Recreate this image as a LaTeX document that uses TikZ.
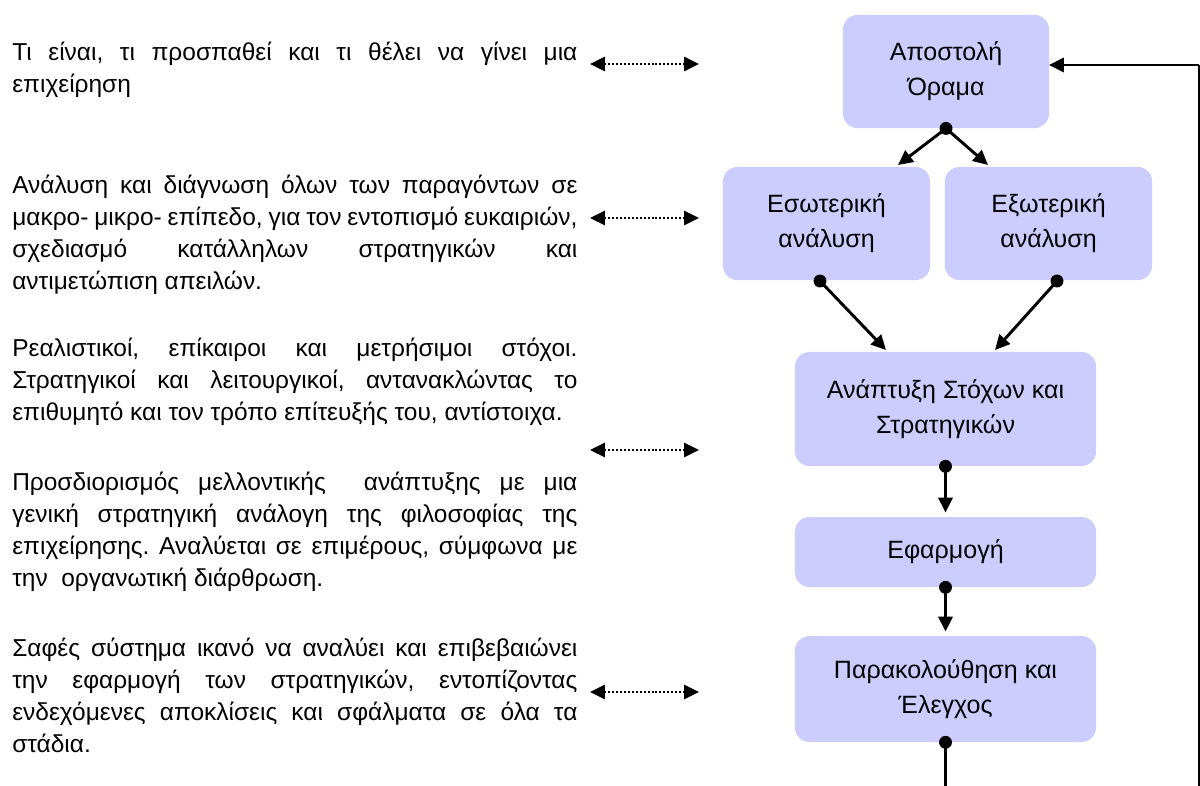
\documentclass[tikz,border=0pt]{standalone}
\usepackage{fontspec}
\setmainfont{Liberation Sans}
\usetikzlibrary{arrows.meta}
\definecolor{stagefill}{RGB}{204,204,255}
\def\tipA{Triangle[length=10.5pt,width=10pt]}
\hyphenpenalty=10000
\exhyphenpenalty=10000
\frenchspacing

\tikzset{
	stage/.style={rectangle, rounded corners=10.5pt, fill=stagefill, inner sep=0pt, align=center, font=\fontsize{17.8}{24.9}\selectfont},
	note/.style={anchor=base west, inner sep=0pt, text width=14.125cm, align=justify, font=\fontsize{17.4}{22.8}\selectfont},
	flow/.style={line width=2.1pt, -{\tipA}},
	link/.style={line width=1.4pt, dash pattern=on 1.4pt off 1.4pt, {\tipA}-{\tipA}},
}

\begin{document}
\begin{tikzpicture}[x=0.025cm, y=-0.025cm]
			%%%%% START %%%%%
			\useasboundingbox (0, 0) rectangle (1200, 785);
			
			% stages
			\node[stage, minimum width=5.15cm, minimum height=2.83cm] (mission) at (946, 71.5) {Αποστολή\\Όραμα};
			\node[stage, minimum width=5.18cm, minimum height=2.83cm] (intern) at (826.5, 223.5) {Εσωτερική\\ανάλυση};
			\node[stage, minimum width=5.18cm, minimum height=2.83cm] (extern) at (1048.5, 223.5) {Εξωτερική\\ανάλυση};
			\node[stage, minimum width=7.53cm, minimum height=2.85cm] (goals) at (945.5, 409) {Ανάπτυξη Στόχων και\\Στρατηγικών};
			\node[stage, minimum width=7.53cm, minimum height=1.75cm] (apply) at (945.5, 552) {Εφαρμογή};
			\node[stage, minimum width=7.53cm, minimum height=2.65cm] (control) at (945.5, 689) {Παρακολούθηση και\\Έλεγχος};
			
			% notes
			\node[note] (n1) at (12, 60) {Τι είναι, τι προσπαθεί και τι θέλει να γίνει μια\linebreak επιχείρηση};
			\node[note] (n2) at (12, 193) {Ανάλυση και διάγνωση όλων των παραγόντων σε\linebreak μακρο- μικρο- επίπεδο, για τον εντοπισμό ευκαιριών,\linebreak σχεδιασμό κατάλληλων στρατηγικών και\linebreak αντιμετώπιση απειλών.};
			\node[note] (n3) at (12, 356) {Ρεαλιστικοί, επίκαιροι και μετρήσιμοι στόχοι.\linebreak Στρατηγικοί και λειτουργικοί, αντανακλώντας το\linebreak επιθυμητό και τον τρόπο επίτευξής του, αντίστοιχα.};
			\node[note] (n4) at (12, 490) {Προσδιορισμός μελλοντικής\ \ ανάπτυξης με μια\linebreak γενική στρατηγική ανάλογη της φιλοσοφίας της\linebreak επιχείρησης. Αναλύεται σε επιμέρους, σύμφωνα με\linebreak την\ \ οργανωτική διάρθρωση.};
			\node[note] (n5) at (12, 656) {Σαφές σύστημα ικανό να αναλύει και επιβεβαιώνει\linebreak την εφαρμογή των στρατηγικών, εντοπίζοντας\linebreak ενδεχόμενες αποκλίσεις και σφάλματα σε όλα τα\linebreak στάδια.};
			
			% dotted links
			\coordinate (l1a) at (590, 64);  \coordinate (l1b) at (699, 64);
			\coordinate (l2a) at (590, 218); \coordinate (l2b) at (699, 218);
			\coordinate (l3a) at (590, 450); \coordinate (l3b) at (699, 450);
			\coordinate (l4a) at (590, 692); \coordinate (l4b) at (699, 692);
			\draw[link] (l1a) -- (l1b);
			\draw[link] (l2a) -- (l2b);
			\draw[link] (l3a) -- (l3b);
			\draw[link] (l4a) -- (l4b);
			
			% flow arrows
			\coordinate (toint) at (898, 165);
			\coordinate (toext) at (988, 165);
			\coordinate (intdot) at (820, 281);
			\coordinate (extdot) at (1057, 281);
			\coordinate (goalsl) at (886, 350);
			\coordinate (goalsr) at (995, 350);
			\draw[flow] (mission.south) -- (toint);
			\draw[flow] (mission.south) -- (toext);
			\draw[flow] (intdot) -- (goalsl);
			\draw[flow] (extdot) -- (goalsr);
			\draw[flow, shorten >=3pt] (goals.south) -- (apply.north);
			\draw[flow, shorten >=3pt] (apply.south) -- (control.north);
			
			% feedback loop
			\coordinate (fbdown) at (945.5, 790);
			\coordinate (fbcorner) at (1199, 790);
			\coordinate (fbtop) at (1199, 65);
			\coordinate (fbend) at (1049, 65);
			\draw[line width=2.1pt] (control.south) -- (fbdown);
			\draw[line width=0.8pt] (fbcorner) -- (fbtop);
			\draw[flow] (fbtop) -- (fbend);
			
			% dots
			\fill (mission.south) circle (4.6pt);
			\fill (intdot) circle (4.6pt);
			\fill (extdot) circle (4.6pt);
			\fill (goals.south) circle (4.6pt);
			\fill (apply.south) circle (4.6pt);
			\fill (control.south) circle (4.6pt);
			%%%%% END %%%%%
\end{tikzpicture}
\end{document}
